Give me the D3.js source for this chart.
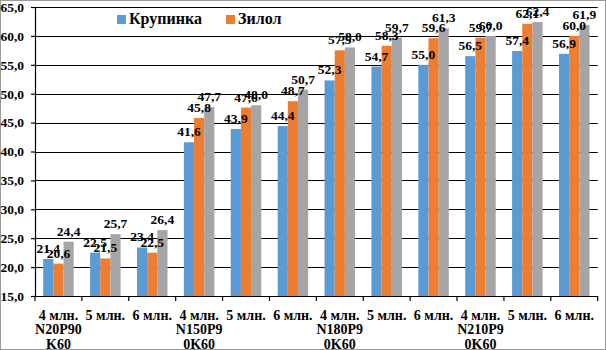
<!DOCTYPE html>
<html>
<head>
<meta charset="utf-8">
<script src="https://cdn.jsdelivr.net/npm/d3@7"></script>
<style>
  body { margin: 0; background: #fff; }
  svg text { font-family: "Liberation Serif", "DejaVu Serif", serif !important; font-weight: bold; fill: #000; }
</style>
</head>
<body>
<div id="vis"></div>
<script>
const categories = ["4 млн.", "5 млн.", "6 млн.", "4 млн.", "5 млн.", "6 млн.",
                    "4 млн.", "5 млн.", "6 млн.", "4 млн.", "5 млн.", "6 млн."];
// doza udobreniy, written under the first category of each group
const groupLabels = [["N20P90", "K60"], ["N150P9", "0K60"], ["N180P9", "0K60"], ["N210P9", "0K60"]];
const seriesNames = ["Крупинка", "Зилол", ""];
const krupinka = [21.4, 22.5, 23.4, 41.6, 43.9, 44.4, 52.3, 54.7, 55.0, 56.5, 57.4, 56.9];
const zilol    = [20.6, 21.5, 22.5, 45.8, 47.6, 48.7, 57.5, 58.3, 59.6, 59.7, 62.1, 60.0];
const third    = [24.4, 25.7, 26.4, 47.7, 48.0, 50.7, 58.0, 59.7, 61.3, 60.0, 62.4, 61.9];
const yTicks = [15, 20, 25, 30, 35, 40, 45, 50, 55, 60, 65];
const colors = ["#5b9bd5", "#ed7d31", "#a5a5a5"];

const layout = {
    width: 606,
    height: 350,
    left: 35,
    right: 597.7,
    top: 7,
    bottom: 296
};

const allSeries = [krupinka, zilol, third];
const fmt = v => d3.format(".1f")(v).replace(".", ",");
const serif = '"Liberation Serif", "DejaVu Serif", serif';

let svg = d3.select("#vis").append("svg")
    .attr("width", layout.width)
    .attr("height", layout.height);

// outer border
svg.append("rect")
    .attr("x", 0.5).attr("y", 0.5)
    .attr("width", layout.width - 1).attr("height", layout.height - 1)
    .attr("fill", "white")
    .attr("stroke", "#9a9a9a");

let idx = d3.range(categories.length);
let xScale = d3.scaleBand()
    .domain(idx)
    .range([layout.left, layout.right])
    .padding(0);
let bw = xScale.bandwidth();
let xInner = d3.scaleBand()
    .domain([0, 1, 2])
    .range([8.2, bw - 8.2]);

let yScale = d3.scaleLinear()
    .domain([15, 65])
    .range([layout.bottom, layout.top]);

// gridlines
svg.append("g").selectAll("line")
    .data(yTicks.filter(t => t > 15))
    .join("line")
    .attr("x1", layout.left).attr("x2", layout.right)
    .attr("y1", d => Math.round(yScale(d)) + 0.5)
    .attr("y2", d => Math.round(yScale(d)) + 0.5)
    .attr("stroke", "#000")
    .attr("stroke-width", 1.2);

// y axis
let yAxis = svg.append("g")
    .attr("transform", `translate(${layout.left},0)`)
    .call(d3.axisLeft(yScale).tickValues(yTicks).tickSize(4).tickPadding(7).tickFormat(fmt));
yAxis.attr("font-family", serif);
yAxis.selectAll("line, .domain").attr("stroke", "#000").attr("stroke-width", 1.2);
yAxis.selectAll("text")
    .attr("font-size", 13.5)
    .style("font-family", serif)
    .attr("fill", "#000");

// bars
allSeries.forEach((vals, s) => {
    svg.append("g").selectAll("rect")
        .data(vals)
        .join("rect")
        .attr("x", (d, i) => xScale(i) + xInner(s))
        .attr("y", d => yScale(d))
        .attr("width", xInner.bandwidth())
        .attr("height", d => yScale(15) - yScale(d))
        .attr("fill", colors[s]);
});

// value labels
allSeries.forEach((vals, s) => {
    svg.append("g").selectAll("text")
        .data(vals)
        .join("text")
        .attr("x", (d, i) => xScale(i) + xInner(s) + xInner.bandwidth() / 2)
        .attr("y", d => yScale(d) - 6)
        .attr("text-anchor", "middle")
        .attr("font-size", 13.5)
        .style("font-family", serif)
        .text(d => fmt(d));
});

// x axis
let xAxis = svg.append("g")
    .attr("transform", `translate(0,${layout.bottom})`);
xAxis.append("line")
    .attr("x1", layout.left).attr("x2", layout.right)
    .attr("y1", 0.5).attr("y2", 0.5)
    .attr("stroke", "#000").attr("stroke-width", 1.2);
xAxis.selectAll(".tick")
    .data(idx.concat([categories.length]))
    .join("line")
    .attr("class", "tick")
    .attr("x1", d => d < categories.length ? xScale(d) : layout.right)
    .attr("x2", d => d < categories.length ? xScale(d) : layout.right)
    .attr("y1", 0).attr("y2", 5)
    .attr("stroke", "#000").attr("stroke-width", 1.2);

let catLabels = svg.append("g").selectAll("text")
    .data(categories)
    .join("text")
    .attr("text-anchor", "middle")
    .attr("font-size", 14)
    .style("font-family", serif)
    .attr("x", (d, i) => xScale(i) + bw / 2)
    .attr("y", 319.5);
catLabels.each(function(d, i) {
    let t = d3.select(this);
    t.append("tspan").attr("x", xScale(i) + bw / 2).text(d);
    if (i % 3 === 0) {
        groupLabels[i / 3].forEach(line => {
            t.append("tspan").attr("x", xScale(i) + bw / 2).attr("dy", 14.5).text(line);
        });
    }
});

// legend
let legend = svg.append("g");
let legendX = [117, 226];
[0, 1].forEach(s => {
    legend.append("rect")
        .attr("x", legendX[s]).attr("y", 15)
        .attr("width", 9).attr("height", 9)
        .attr("fill", colors[s]);
    legend.append("text")
        .attr("x", legendX[s] + 12).attr("y", 24)
        .attr("font-size", 16)
        .style("font-family", serif)
        .text(seriesNames[s]);
});
</script>
</body>
</html>
